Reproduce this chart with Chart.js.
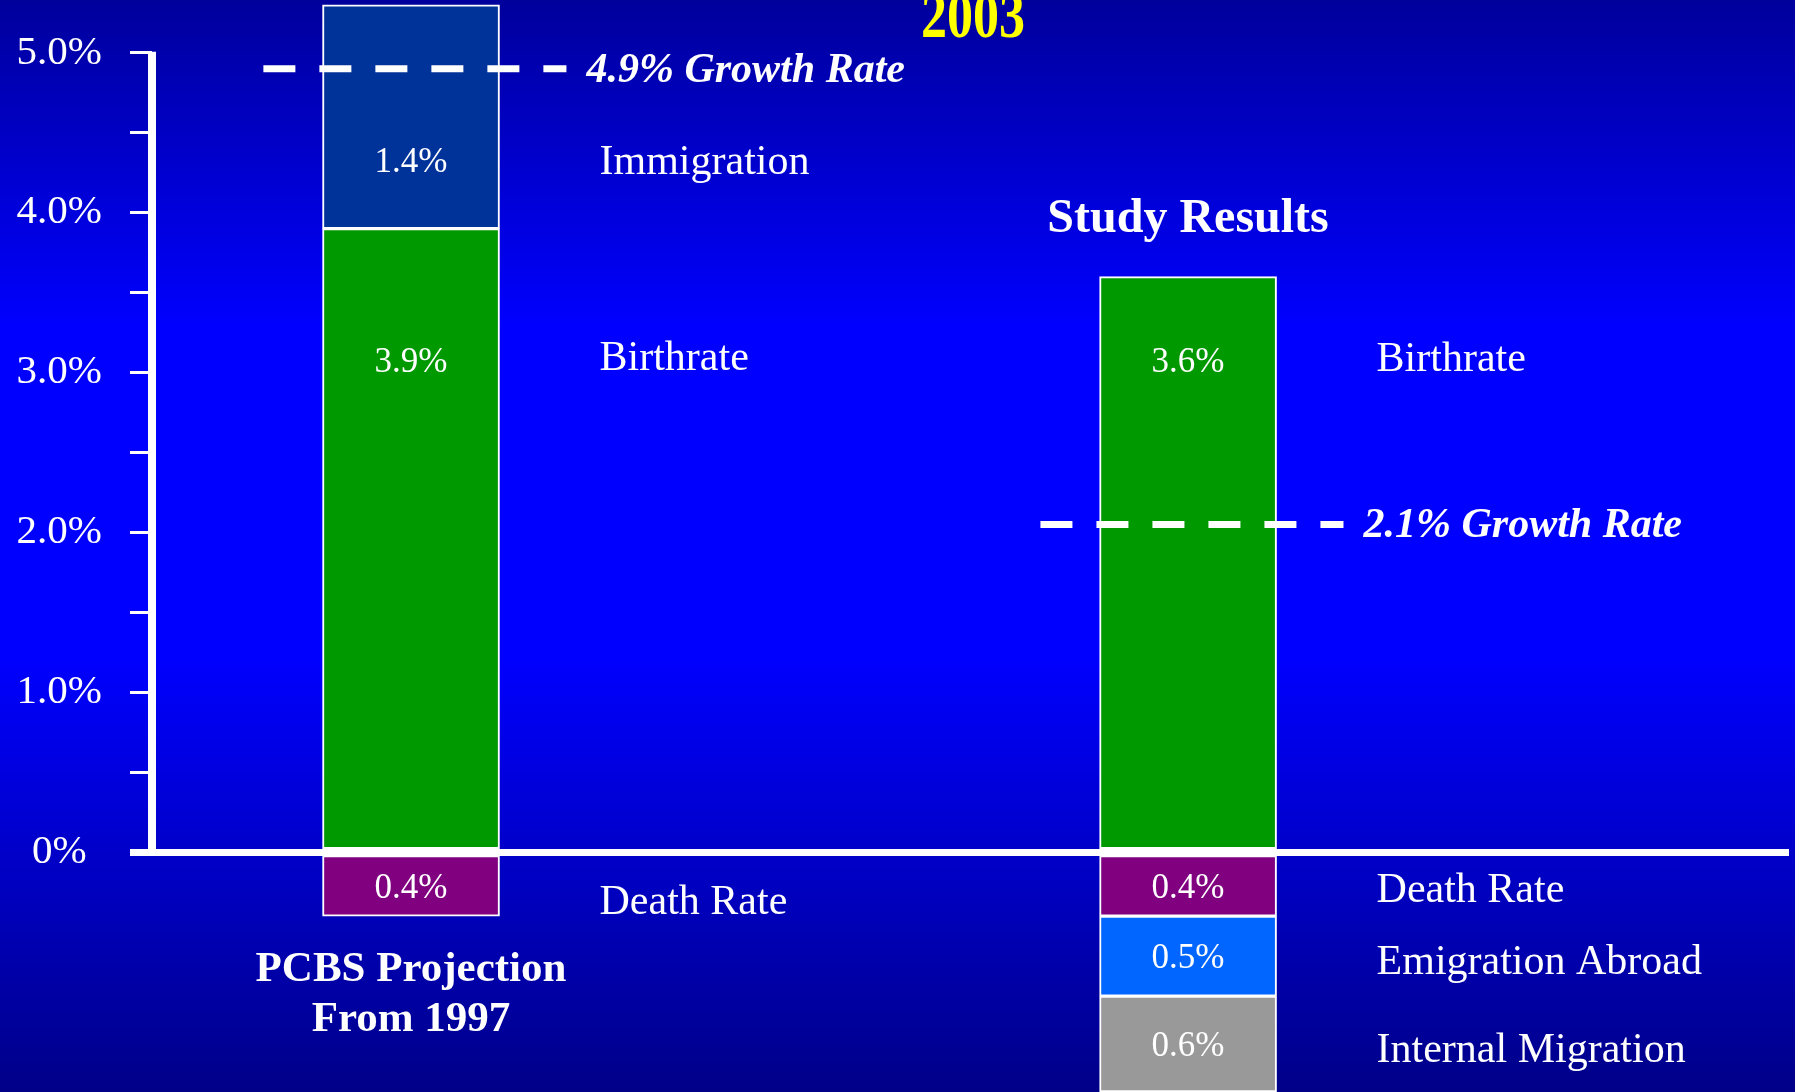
<!DOCTYPE html>
<html><head><meta charset="utf-8">
<script src="https://cdn.jsdelivr.net/npm/chart.js@4/dist/chart.umd.min.js"></script>
<style>html,body{margin:0;padding:0;background:#0000c0;overflow:hidden}#wrap{width:1795px;height:1092px;position:relative}</style>
</head><body><div id="wrap"><canvas id="c"></canvas></div>
<script>
// ---- data ----
const categories = ['PCBS Projection\nFrom 1997', 'Study Results'];
const birthrate = [3.9, 3.6];
const immigration = [1.4, null];
const deathRate = [-0.4, -0.4];
const emigrationAbroad = [null, -0.5];
const internalMigration = [null, -0.6];
const growthRates = [4.9, 2.05];
const growthLabels = ['4.9% Growth Rate', '2.1% Growth Rate'];
const yTickValues = [0, 0.5, 1, 1.5, 2, 2.5, 3, 3.5, 4, 4.5, 5];
const yTickLabels = ['0%', '', '1.0%', '', '2.0%', '', '3.0%', '', '4.0%', '', '5.0%'];
const titleText = '2003';

// ---- layout config (not data) ----
const slotX = [1, 4];
const growthSpan = [-0.57, 0.6];
const FONT = '"Liberation Serif", "Times New Roman", serif';

function pts(arr) {
  const out = [];
  arr.forEach((v, i) => { if (v !== null) out.push({ x: slotX[i], y: v }); });
  return out;
}

const barDefs = [
  { label: 'Birthrate', values: birthrate, color: '#009900' },
  { label: 'Immigration', values: immigration, color: '#003399' },
  { label: 'Death Rate', values: deathRate, color: '#800080' },
  { label: 'Emigration Abroad', values: emigrationAbroad, color: '#0066ff' },
  { label: 'Internal Migration', values: internalMigration, color: '#999999' }
];

const datasets = barDefs.map(d => ({
  type: 'bar', label: d.label, data: pts(d.values), backgroundColor: d.color,
  borderColor: '#ffffff', borderWidth: 2, borderSkipped: false,
  barThickness: 177, stack: 'bars', order: 1
}));
growthRates.forEach((g, i) => {
  datasets.push({
    type: 'line', label: growthLabels[i],
    data: [{ x: slotX[i] + growthSpan[0], y: g }, { x: slotX[i] + growthSpan[1], y: g }],
    borderColor: '#ffffff', borderWidth: 7, borderDash: [32, 24], borderCapStyle: 'butt',
    pointRadius: 0, fill: false, stack: 'g' + i, order: -1
  });
});

const bgPlugin = {
  id: 'bg',
  beforeDraw(chart) {
    const { ctx, width, height } = chart;
    const g = ctx.createLinearGradient(0, 0, 0, height);
    g.addColorStop(0, '#00009c');
    g.addColorStop(0.3, '#0000ff');
    g.addColorStop(0.6, '#0000ff');
    g.addColorStop(1, '#000088');
    ctx.save(); ctx.fillStyle = g; ctx.fillRect(0, 0, width, height); ctx.restore();
  }
};

const axisPlugin = {
  id: 'axisLine',
  beforeDatasetsDraw(chart) {
    const { ctx, chartArea } = chart;
    const y = chart.scales.y;
    ctx.save();
    ctx.strokeStyle = '#ffffff'; ctx.lineWidth = 8; ctx.lineCap = 'butt';
    ctx.beginPath();
    ctx.moveTo(chartArea.left, y.getPixelForValue(yTickValues[yTickValues.length - 1]) - 1);
    ctx.lineTo(chartArea.left, y.getPixelForValue(0));
    ctx.stroke();
    ctx.restore();
  }
};

const labelPlugin = {
  id: 'labels',
  afterDatasetsDraw(chart, args, opts) {
    const { ctx } = chart;
    const ys = chart.scales.y, xs = chart.scales.x;
    ctx.save();
    ctx.fillStyle = '#ffffff';
    barDefs.forEach((d, di) => {
      const meta = chart.getDatasetMeta(di);
      meta.data.forEach((el, k) => {
        const raw = chart.data.datasets[di].data[k];
        const catIdx = slotX.indexOf(raw.x);
        let cy;
        if (raw.y < 0) cy = (el.y + el.base) / 2;
        else cy = ys.getPixelForValue(opts.anchors[d.label]);
        ctx.font = '35px ' + FONT;
        ctx.textAlign = 'center'; ctx.textBaseline = 'middle';
        ctx.fillText(Math.abs(raw.y).toFixed(1) + '%', el.x, cy + 3);
        ctx.font = '42px ' + FONT;
        ctx.textAlign = 'left'; ctx.textBaseline = 'alphabetic';
        const dy = (opts.nameDy[d.label] || [14, 14])[catIdx];
        ctx.fillText(d.label, el.x + el.width / 2 + 100, cy + dy);
      });
    });
    ctx.font = 'italic bold 42px ' + FONT;
    ctx.textAlign = 'left'; ctx.textBaseline = 'alphabetic';
    growthRates.forEach((g, i) => {
      const xEnd = xs.getPixelForValue(slotX[i] + growthSpan[1]);
      ctx.fillText(growthLabels[i], xEnd + 20, ys.getPixelForValue(g) + 13);
    });
    categories.forEach((c, i) => {
      const cx = xs.getPixelForValue(slotX[i]);
      ctx.textAlign = 'center'; ctx.textBaseline = 'alphabetic';
      const lines = c.split('\n');
      let bottom = -Infinity, top = Infinity;
      barDefs.forEach((d, di) => {
        chart.getDatasetMeta(di).data.forEach((el, k) => {
          if (chart.data.datasets[di].data[k].x === slotX[i]) {
            bottom = Math.max(bottom, el.y, el.base);
            top = Math.min(top, el.y, el.base);
          }
        });
      });
      if (i === 0) {
        ctx.font = 'bold 43px ' + FONT;
        lines.forEach((ln, li) => ctx.fillText(ln, cx, bottom + 65 + li * 50));
      } else {
        ctx.font = 'bold 48px ' + FONT;
        lines.forEach((ln, li) => ctx.fillText(ln, cx, top - 45 + li * 50));
      }
    });
    // title (slightly tall, clipped at top like the slide)
    ctx.save();
    ctx.translate(973, 37);
    ctx.scale(1, 1.25);
    ctx.font = 'bold 52px ' + FONT;
    ctx.fillStyle = '#ffff00';
    ctx.textAlign = 'center'; ctx.textBaseline = 'alphabetic';
    ctx.fillText(titleText, 0, 0);
    ctx.restore();
    ctx.restore();
  }
};

new Chart(document.getElementById('c'), {
  data: { datasets },
  plugins: [bgPlugin, axisPlugin, labelPlugin],
  options: {
    responsive: true, maintainAspectRatio: false, animation: false, devicePixelRatio: 1,
    layout: { padding: { left: 0, right: 6, top: 0, bottom: 0 } },
    plugins: {
      legend: { display: false }, tooltip: { enabled: false }, title: { display: false },
      labels: {
        anchors: { 'Birthrate': 3.08, 'Immigration': 4.33 },
        nameDy: { 'Death Rate': [28, 16], 'Emigration Abroad': [18, 18], 'Internal Migration': [18, 18], 'Birthrate': [10, 11] }
      }
    },
    scales: {
      x: { type: 'linear', min: 0, max: 6.32, stacked: true, display: false, offset: false, grace: 0 },
      y: {
        type: 'linear', min: -1.5, max: 5.33, stacked: true,
        afterBuildTicks(scale) { scale.ticks = yTickValues.map(v => ({ value: v })); },
        afterFit(scale) { scale.width = 152; scale.paddingTop = 0; scale.paddingBottom = 0; },
        border: { display: false },
        grid: {
          drawTicks: true, tickLength: 22,
          color: c => (c.tick && c.tick.value === 0) ? '#ffffff' : 'rgba(0,0,0,0)',
          lineWidth: c => (c.tick && c.tick.value === 0) ? 7 : 3,
          tickColor: '#ffffff',
          tickWidth: c => (c.tick && c.tick.value === 0) ? 7 : 3
        },
        ticks: {
          color: '#ffffff', padding: 28, crossAlign: 'center', autoSkip: false,
          font: { family: FONT, size: 41 },
          callback: (v, i) => yTickLabels[i]
        }
      }
    }
  }
});
</script></body></html>
